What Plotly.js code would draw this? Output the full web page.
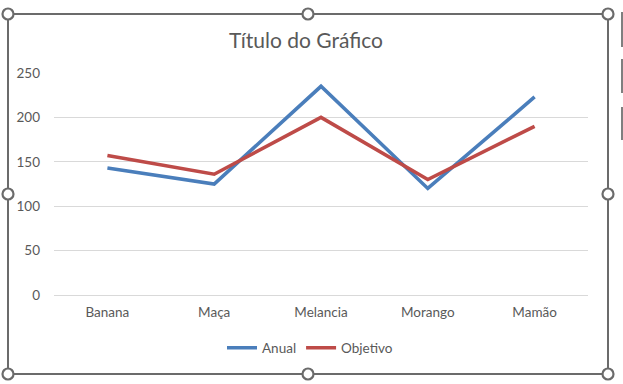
<!DOCTYPE html>
<html>
<head>
<meta charset="utf-8">
<script src="https://cdn.plot.ly/plotly-3.0.1.min.js"></script>
<style>html,body{margin:0;padding:0;background:#fff;}#chart{width:623px;height:384px;}</style>
</head>
<body>
<div id="chart"></div>
<script>
var categories = ["Banana", "Maça", "Melancia", "Morango", "Mamão"];
var anual = [143, 125, 235, 120, 223];
var objetivo = [157, 136, 200, 130, 190];
var yTicks = [0, 50, 100, 150, 200, 250];

var FONT = "Lato, 'Open Sans', sans-serif";
var GREY = "#595959";

// plot area origin: left 54px, bottom 295px
function px(x) { return x - 54; }
function py(y) { return 295 - y; }
var frameColor = "#6b6b6b";
var shapes = [{
  type: "rect", xref: "paper", yref: "paper", xsizemode: "pixel", ysizemode: "pixel",
  xanchor: 0, yanchor: 0, x0: px(8), x1: px(608), y0: py(374), y1: py(14),
  line: {color: frameColor, width: 2}, fillcolor: "rgba(0,0,0,0)", layer: "above"
}];
var handles = [[8,14],[308,14],[608,14],[8,194],[608,194],[8,374],[308,374],[608,374]];
handles.forEach(function (h) {
  shapes.push({
    type: "circle", xref: "paper", yref: "paper", xsizemode: "pixel", ysizemode: "pixel",
    xanchor: 0, yanchor: 0, x0: px(h[0]-5.5), x1: px(h[0]+5.5), y0: py(h[1]+5.5), y1: py(h[1]-5.5),
    line: {color: frameColor, width: 2.2}, fillcolor: "#ffffff", layer: "above"
  });
});
[[12,47],[59,93],[107,140]].forEach(function (b) {
  shapes.push({
    type: "line", xref: "paper", yref: "paper", xsizemode: "pixel", ysizemode: "pixel",
    xanchor: 0, yanchor: 0, x0: px(622), x1: px(622), y0: py(b[1]), y1: py(b[0]),
    line: {color: "#555", width: 1.5}, layer: "above"
  });
});

var data = [
  {x: categories, y: anual, type: "scatter", mode: "lines", name: "Anual",
   line: {color: "#4A7EBB", width: 3.6}},
  {x: categories, y: objetivo, type: "scatter", mode: "lines", name: "Objetivo",
   line: {color: "#BE4B48", width: 3.6}}
];

var layout = {
  width: 623, height: 384,
  margin: {l: 54, r: 35, t: 73, b: 89, pad: 0},
  paper_bgcolor: "#ffffff", plot_bgcolor: "#ffffff",
  font: {family: FONT, color: GREY, size: 13.5},
  title: {text: "Título do Gráfico", font: {family: FONT, size: 21, color: GREY},
          x: 306/623, xanchor: "center", xref: "container", y: 1 - 41/384, yanchor: "middle", yref: "container"},
  xaxis: {type: "category", range: [-0.5, 4.5], showgrid: false, zeroline: false,
          showline: false, ticks: "", tickfont: {family: FONT, size: 13.5, color: GREY},
          ticklabelstandoff: 7, fixedrange: true},
  yaxis: {range: [0, 250], tickvals: yTicks, ticktext: yTicks.map(String),
          showgrid: true, gridcolor: "#d9d9d9", gridwidth: 1, zeroline: true,
          zerolinecolor: "#d9d9d9", zerolinewidth: 1, showline: false, ticks: "",
          tickfont: {family: FONT, size: 13.5, color: GREY}, ticklabelstandoff: 13, fixedrange: true},
  showlegend: true,
  legend: {orientation: "h", x: (310-54)/534, xanchor: "center", y: (295-348)/222, yanchor: "middle",
           font: {family: FONT, size: 13.5, color: GREY}, itemwidth: 30, tracegroupgap: 0,
           bgcolor: "rgba(0,0,0,0)"},
  shapes: shapes
};

Plotly.newPlot("chart", data, layout, {displayModeBar: false, staticPlot: true});
</script>
</body>
</html>
